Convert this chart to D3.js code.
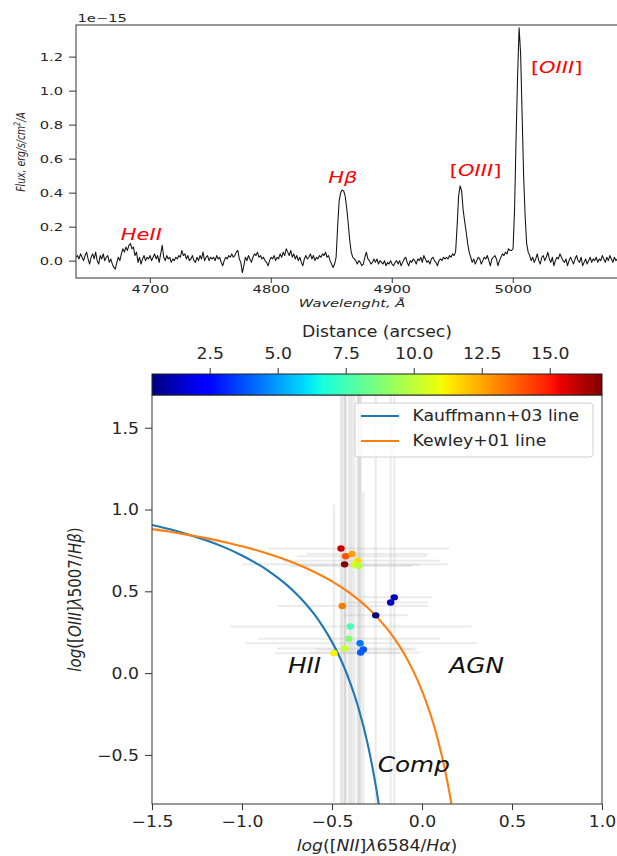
<!DOCTYPE html>
<html><head><meta charset="utf-8">
<script src="https://cdn.jsdelivr.net/npm/d3@7"></script>
<style>body{margin:0;background:#fff}svg{display:block}text{font-family:"DejaVu Sans",sans-serif}</style>
</head><body><svg id="c" width="617" height="856"></svg>
<script>
// ================= DATA =================
// Spectrum: flux in units of 1e-15 erg/s/cm^2/A, sampled every 1.25 A from 4639 A
const specStart = 4639.0, specStep = 1.25;
const specFlux = [
.02,.03,.01,.04,.02,.00,.03,.05,.01,-.02,
.02,.04,.01,.05,.00,-.02,.03,.01,.04,.00,
.02,.03,-.01,.01,-.02,-.04,-.05,-.01,.02,.00,
.04,.07,.05,.08,.06,.09,.10,.07,.08,.03,
.05,-.01,.02,-.02,.01,.03,.00,.02,.01,.03,
.00,.02,.04,.01,.03,-.01,.04,.09,.02,.00,
.03,.01,.02,-.01,.01,.00,.02,.01,.03,.02,
.06,.03,.04,.01,.03,.00,.01,.03,.00,-.01,
.02,.00,.03,.01,.05,.00,.02,.03,.00,.02,
.01,.02,.00,.03,.01,.02,-.01,-.03,.00,.02,
.01,.03,.02,.04,.02,.03,.05,.06,.01,-.01,
-.07,-.03,.02,.00,.03,.01,-.01,.02,.04,.03,
.05,.02,.03,.01,.02,.00,-.01,-.03,.00,.02,
.01,.03,.00,.02,.01,.04,.02,.05,.03,.07,
.05,.03,.06,.02,.04,.01,.03,.00,.02,-.01,
-.03,.01,.03,.01,.02,.04,.01,.03,.00,.02,
.01,.03,.02,.04,.03,.05,.02,.03,.00,-.02,
-.04,-.02,.02,.20,.35,.40,.415,.41,.38,.31,
.22,.12,.05,.02,.01,.00,-.02,.00,-.01,-.03,
-.02,.02,.05,.01,.00,-.02,-.01,.01,-.01,.01,
-.02,.00,-.01,-.02,.00,-.03,-.01,-.02,.00,-.02,
-.03,-.01,.00,-.02,.00,-.03,-.01,.01,.02,-.01,
-.03,.00,-.01,.01,.00,-.02,.01,.00,.02,-.01,
.03,.01,-.01,.00,-.02,.01,.02,.00,-.01,-.03,
.00,.01,.00,.02,.01,.02,.01,.03,.02,.04,
.03,.05,.20,.38,.44,.41,.30,.23,.17,.10,
.05,.02,-.01,.01,-.02,.00,.02,.01,-.02,.00,
.02,.01,.03,.00,-.03,.01,.02,.03,.01,-.03,
.00,.02,.04,.03,.05,.04,.07,.06,.06,.07,
.30,.72,1.08,1.37,1.22,.86,.50,.26,.10,.05,
.03,.00,.02,-.01,.01,.04,.00,-.02,.02,.03,
.00,.02,.05,.01,-.01,.02,-.03,.00,.02,.01,
.04,.02,.00,-.01,.01,-.03,.00,.02,.00,-.02,
.01,.03,.00,-.01,.02,-.03,-.01,.01,-.02,.00,
.02,-.01,.01,.00,.02,-.01,.01,.00,.03,.01,
-.01,.02,.00,.03,.01,-.01,.02,.00,.01
];
const specXDomain = [4639, 5087];
const specYDomain = [-0.102, 1.386];
const specTicksX = [4700, 4800, 4900, 5000];
const specTicksY = [0.0, 0.2, 0.4, 0.6, 0.8, 1.0, 1.2];
const specOffsetText = "1e\u221215";
const lineLabelWave = [4676, 4847.5, 4948, 5015];
const lineLabelFlux = [0.12, 0.455, 0.498, 1.104];
const lineLabelParts = [
  [["HeII", true]],
  [["H\u03b2", true]],
  [["[", false], ["OIII", true], ["]", false]],
  [["[", false], ["OIII", true], ["]", false]]
];

// BPT diagram points
const bptNII  = [-0.450,-0.424,-0.389,-0.356,-0.430,-0.376,-0.352,-0.154,-0.174,-0.443,-0.257,-0.398,-0.407,-0.344,-0.428,-0.326,-0.341,-0.489];
const bptOIII = [ 0.762, 0.714, 0.728, 0.687, 0.665, 0.663, 0.655, 0.463, 0.432, 0.410, 0.353, 0.285, 0.210, 0.183, 0.151, 0.145, 0.126, 0.122];
const bptDist = [ 15.8, 14.0, 12.6, 11.6, 16.9, 10.4, 9.8, 1.2, 1.4, 13.3, 0.4, 7.6, 8.8, 4.4, 10.2, 3.8, 4.0, 11.2];
const bptXerrLo = [0.404,0.272,0.252,0.416,0.568,0.300,0.380,0.190,0.263,0.356,0.180,0.668,0.502,0.639,0.379,0.259,0.282,0.328];
const bptXerrHi = [0.601,0.450,0.424,0.456,0.576,0.365,0.300,0.208,0.203,0.478,0.181,0.674,0.507,0.648,0.379,0.297,0.329,0.367];
const bptYerr   = [1.90,1.70,2.20,1.80,2.40,1.60,1.75,1.80,1.65,2.00,1.70,1.90,2.30,1.80,1.85,0.96,2.10,0.91];

// demarcation lines (sampled)
const kauffX = [-1.5,-1.4,-1.3,-1.2,-1.1,-1.0,-0.9,-0.85,-0.8,-0.75,-0.7,-0.65,-0.6,-0.55,-0.5,-0.45,-0.425,-0.4,-0.375,-0.35,-0.325,-0.3,-0.285,-0.27,-0.255,-0.24];
const kauffY = [0.906,0.879,0.848,0.812,0.770,0.719,0.658,0.622,0.582,0.538,0.487,0.429,0.362,0.283,0.191,0.080,0.016,-0.056,-0.135,-0.225,-0.327,-0.443,-0.521,-0.606,-0.700,-0.803];
const kewleyX = [-1.5,-1.4,-1.3,-1.2,-1.1,-1.0,-0.9,-0.8,-0.7,-0.6,-0.5,-0.4,-0.3,-0.2,-0.15,-0.1,-0.05,0.0,0.05,0.075,0.1,0.115,0.13,0.145,0.16,0.165];
const kewleyY = [0.880,0.864,0.845,0.825,0.801,0.775,0.745,0.710,0.669,0.620,0.561,0.489,0.398,0.280,0.206,0.120,0.017,-0.108,-0.262,-0.354,-0.459,-0.528,-0.604,-0.687,-0.778,-0.810];
const legendNames = ["Kauffmann+03 line", "Kewley+01 line"];
const lineColors = ["#1f77b4", "#ff7f0e"];

const bptXDomain = [-1.5, 1.0];
const bptYDomain = [-0.8, 1.7];
const bptTicksX = [-1.5, -1.0, -0.5, 0.0, 0.5, 1.0];
const bptTicksY = [-0.5, 0.0, 0.5, 1.0, 1.5];
const cbarDomain = [0.38, 16.92];
const cbarTicks = [2.5, 5.0, 7.5, 10.0, 12.5, 15.0];
const cbarLabel = "Distance (arcsec)";
const regionNames = ["HII", "AGN", "Comp"];
const regionX = [-0.745, 0.152, -0.246];
const regionY = [0.0, 0.0, -0.602];

// ================= DRAW =================
const svg = d3.select("#c");
const INK = "#262626";
const sxT = 1.4, sxB = 1.15;

function label(parent, x, y, sx, parts, o) {
  const g = parent.append("g").attr("transform", `translate(${x},${y}) scale(${sx},1)` + (o.rot ? ` rotate(${o.rot})` : ""));
  const t = g.append("text").attr("font-size", o.size).attr("text-anchor", o.anchor || "start").attr("fill", o.fill || INK);
  if (o.dy) t.attr("dy", o.dy);
  parts.forEach(p => {
    const ts = t.append("tspan").text(p[0]).attr("font-style", p[1] ? "italic" : "normal");
    if (p[2]) ts.attr("baseline-shift", p[2]).attr("font-size", o.size * 0.7);
  });
  return t;
}
function styleAxis(ax, sx, size, kind, off) {
  ax.select(".domain").remove();
  ax.selectAll(".tick line").attr("stroke", "#333").attr("stroke-width", 1);
  const t = ax.selectAll(".tick text").attr("font-size", size).attr("fill", INK)
    .attr("font-family", "DejaVu Sans, sans-serif").attr("transform", `scale(${sx},1)`);
  if (kind === "x") t.attr("y", off).attr("dy", 0);
  if (kind === "top") t.attr("y", -off).attr("dy", 0);
  if (kind === "y") t.attr("x", -off / sx).attr("dy", "0.36em");
}

// ---------- Top panel: spectrum ----------
const T = {l: 76, r: 618, t: 25, b: 278};
const xS = d3.scaleLinear().domain(specXDomain).range([T.l, T.r]);
const yS = d3.scaleLinear().domain(specYDomain).range([T.b, T.t]);
const spec = specFlux.map((f, i) => ({w: specStart + i * specStep, f}));
const gT = svg.append("g");
svg.append("clipPath").attr("id", "clipT").append("rect")
  .attr("x", T.l).attr("y", T.t).attr("width", T.r - T.l).attr("height", T.b - T.t);
gT.append("path").datum(spec).attr("clip-path", "url(#clipT)")
  .attr("d", d3.line().x(d => xS(d.w)).y(d => yS(d.f)))
  .attr("fill", "none").attr("stroke", "#111").attr("stroke-width", 1.05).attr("stroke-linejoin", "round");

lineLabelParts.forEach((p, i) => {
  label(gT, xS(lineLabelWave[i]), yS(lineLabelFlux[i]), sxT, p, {size: 15, fill: "#ff0000"});
});

const axTx = gT.append("g").attr("transform", `translate(0,${T.b})`)
  .call(d3.axisBottom(xS).tickValues(specTicksX).tickSize(5).tickFormat(d3.format("d")));
styleAxis(axTx, sxT, 10.5, "x", 15);
const axTy = gT.append("g").attr("transform", `translate(${T.l},0)`)
  .call(d3.axisLeft(yS).tickValues(specTicksY).tickSize(7).tickFormat(d3.format(".1f")));
styleAxis(axTy, sxT, 10.5, "y", 13);
gT.append("rect").attr("x", T.l).attr("y", T.t).attr("width", T.r - T.l).attr("height", T.b - T.t)
  .attr("fill", "none").attr("stroke", "#333").attr("stroke-width", 1);
label(gT, T.l + 1.5, 22, sxT, [[specOffsetText, false]], {size: 10.5});
label(gT, 20, 152, sxT, [["Flux, erg/s/cm", true], ["2", true, "super"], ["/A", true]], {size: 9.3, anchor: "middle", rot: -90, dy: "0.36em"});
label(gT, 352, 307, sxT, [["Wavelenght, \u00c5", true]], {size: 10.5, anchor: "middle"});

// ---------- Bottom panel: BPT ----------
const B = {l: 152, r: 602, t: 395, b: 804};
const xB = d3.scaleLinear().domain(bptXDomain).range([B.l, B.r]);
const yB = d3.scaleLinear().domain(bptYDomain).range([B.b, B.t]);
const gB = svg.append("g");
svg.append("clipPath").attr("id", "clipB").append("rect")
  .attr("x", B.l).attr("y", B.t).attr("width", B.r - B.l).attr("height", B.b - B.t);

// jet colormap
const jr = d3.scaleLinear().domain([0, 0.35, 0.66, 0.89, 1]).range([0, 0, 1, 1, 0.5]).clamp(true);
const jg = d3.scaleLinear().domain([0, 0.125, 0.375, 0.64, 0.91, 1]).range([0, 0, 1, 1, 0, 0]).clamp(true);
const jb = d3.scaleLinear().domain([0, 0.11, 0.34, 0.65, 1]).range([0.5, 1, 1, 0, 0]).clamp(true);
const jet = t => d3.rgb(jr(t) * 255, jg(t) * 255, jb(t) * 255).formatHex();
const cNorm = d3.scaleLinear().domain(cbarDomain).range([0, 1]).clamp(true);

const pts = bptNII.map((x, i) => ({x, y: bptOIII[i], d: bptDist[i], xl: bptXerrLo[i], xh: bptXerrHi[i], ye: bptYerr[i]}));
const gE = gB.append("g").attr("clip-path", "url(#clipB)");
gE.selectAll("line.v").data(pts).join("line").attr("class", "v")
  .attr("x1", d => xB(d.x)).attr("x2", d => xB(d.x))
  .attr("y1", d => yB(d.y - d.ye)).attr("y2", d => yB(d.y + d.ye))
  .attr("stroke", "#bcbcbc").attr("stroke-opacity", 0.28).attr("stroke-width", 2.3);
gE.selectAll("line.h").data(pts).join("line").attr("class", "h")
  .attr("x1", d => xB(d.x - d.xl)).attr("x2", d => xB(d.x + d.xh))
  .attr("y1", d => yB(d.y)).attr("y2", d => yB(d.y))
  .attr("stroke", "#bcbcbc").attr("stroke-opacity", 0.3).attr("stroke-width", 2);

const curves = [kauffX.map((x, i) => [x, kauffY[i]]), kewleyX.map((x, i) => [x, kewleyY[i]])];
const cLine = d3.line().x(d => xB(d[0])).y(d => yB(d[1])).curve(d3.curveCatmullRom);
curves.forEach((c, i) => {
  gB.append("path").datum(c).attr("clip-path", "url(#clipB)").attr("d", cLine)
    .attr("fill", "none").attr("stroke", lineColors[i]).attr("stroke-width", 2.1);
});

gB.selectAll("ellipse.pt").data(pts).join("ellipse").attr("class", "pt")
  .attr("cx", d => xB(d.x)).attr("cy", d => yB(d.y)).attr("rx", 3.7).attr("ry", 3.2)
  .attr("fill", d => jet(cNorm(d.d)));

regionNames.forEach((n, i) => {
  label(gB, xB(regionX[i]), yB(regionY[i]), sxB, [[n, true]], {size: 21.5, fill: "#111"});
});

// legend
const lg = gB.append("g");
lg.append("rect").attr("x", 355).attr("y", 403).attr("width", 238).attr("height", 54).attr("rx", 3)
  .attr("fill", "#fff").attr("fill-opacity", 0.8).attr("stroke", "#d0d0d0").attr("stroke-width", 1);
legendNames.forEach((n, i) => {
  const yy = 416 + i * 25;
  lg.append("line").attr("x1", 361).attr("x2", 399).attr("y1", yy).attr("y2", yy)
    .attr("stroke", lineColors[i]).attr("stroke-width", 2);
  label(lg, 412.5, yy, sxB, [[n, false]], {size: 15, dy: "0.36em"});
});

// axes
const axBx = gB.append("g").attr("transform", `translate(0,${B.b})`)
  .call(d3.axisBottom(xB).tickValues(bptTicksX).tickSize(6).tickFormat(d3.format(".1f")));
styleAxis(axBx, sxB, 15, "x", 23);
const axBy = gB.append("g").attr("transform", `translate(${B.l},0)`)
  .call(d3.axisLeft(yB).tickValues(bptTicksY).tickSize(7).tickFormat(d3.format(".1f")));
styleAxis(axBy, sxB, 15, "y", 13);
gB.append("rect").attr("x", B.l).attr("y", B.t).attr("width", B.r - B.l).attr("height", B.b - B.t)
  .attr("fill", "none").attr("stroke", "#333").attr("stroke-width", 1);
label(gB, (B.l + B.r) / 2, 851, sxB,
  [["log", true], ["([", false], ["NII", true], ["]", false], ["\u03bb", true], ["6584/", false], ["H\u03b1", true], [")", false]],
  {size: 15, anchor: "middle"});
label(gB, 75, (B.t + B.b) / 2, sxB,
  [["log", true], ["([", false], ["OIII", true], ["]", false], ["\u03bb", true], ["5007/", false], ["H\u03b2", true], [")", false]],
  {size: 15, anchor: "middle", rot: -90, dy: "0.36em"});

// colorbar
const C = {t: 374, b: 395};
const cS = d3.scaleLinear().domain(cbarDomain).range([B.l, B.r]);
const grad = svg.append("defs").append("linearGradient").attr("id", "jetGrad");
d3.range(0, 1.0001, 0.01).forEach(t => grad.append("stop").attr("offset", t).attr("stop-color", jet(t)));
gB.append("rect").attr("x", B.l).attr("y", C.t).attr("width", B.r - B.l).attr("height", C.b - C.t)
  .attr("fill", "url(#jetGrad)").attr("stroke", "#222").attr("stroke-width", 1);
const axC = gB.append("g").attr("transform", `translate(0,${C.t})`)
  .call(d3.axisTop(cS).tickValues(cbarTicks).tickSize(6).tickFormat(d3.format(".1f")));
styleAxis(axC, sxB, 15, "top", 15.5);
label(gB, (B.l + B.r) / 2, 337, sxB, [[cbarLabel, false]], {size: 15, anchor: "middle"});
</script></body></html>
